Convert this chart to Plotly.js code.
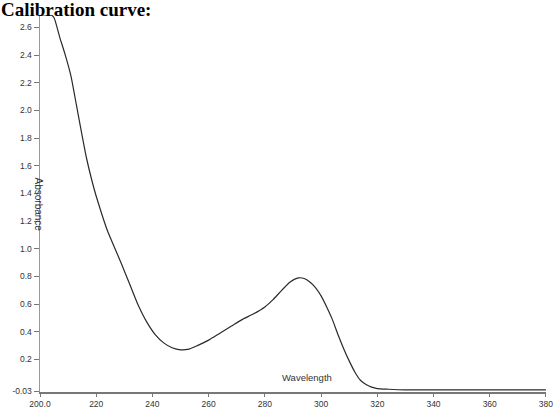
<!DOCTYPE html>
<html>
<head>
<meta charset="utf-8">
<script src="https://cdn.plot.ly/plotly-3.0.1.min.js"></script>
<style>html,body{margin:0;padding:0;background:#fff;}#chart{width:554px;height:409px;}</style>
</head>
<body>
<div id="chart"></div>
<script>
const wavelength = [200,202,204,205,207,209,211,212.5,214.5,216.5,218.5,220,222,224,226.5,229,232,235,238,241,244,247,250,253,256,260,264,268,272,276,280,283,286,289,292,294,296,298,300,302,304,306,308,310,312,314,316,318,320,324,330,340,360,380];
const absorbance = [2.69,2.69,2.69,2.67,2.53,2.40,2.25,2.09,1.87,1.66,1.49,1.38,1.25,1.13,1.01,0.89,0.74,0.59,0.47,0.38,0.32,0.285,0.27,0.275,0.30,0.34,0.39,0.44,0.49,0.53,0.58,0.635,0.70,0.76,0.79,0.785,0.76,0.72,0.66,0.58,0.49,0.38,0.28,0.19,0.11,0.05,0.02,0.00,-0.01,-0.015,-0.02,-0.02,-0.02,-0.02];
const xTickVals = [200,220,240,260,280,300,320,340,360,380];
const xTickText = ["200.0","220","240","260","280","300","320","340","360","380"];
const yTickVals = [-0.03,0.2,0.4,0.6,0.8,1.0,1.2,1.4,1.6,1.8,2.0,2.2,2.4,2.6];
const yTickText = ["-0.03","0.2","0.4","0.6","0.8","1.0","1.2","1.4","1.6","1.8","2.0","2.2","2.4","2.6"];
const chartTitle = "Calibration curve:";
const xTitle = "Wavelength";
const yTitle = "Absorbance";

const trace = {
  x: wavelength, y: absorbance, type: 'scatter', mode: 'lines',
  line: {color: '#2a2a2a', width: 1.2, shape: 'spline', smoothing: 0.6},
  hoverinfo: 'skip', cliponaxis: false
};
const tickFont = {family: 'Liberation Sans, Arial, sans-serif', size: 8.5, color: '#333'};
const layout = {
  width: 554, height: 409,
  margin: {l: 40, r: 8, t: 15, b: 17, pad: 0},
  paper_bgcolor: '#fff', plot_bgcolor: '#fff',
  showlegend: false,
  xaxis: {
    range: [200, 380.02], tickvals: xTickVals, ticktext: xTickText,
    showgrid: false, zeroline: false, showline: true, linecolor: '#777', linewidth: 1.5,
    ticks: 'outside', ticklen: 3, tickcolor: '#777', tickwidth: 1,
    tickfont: tickFont, fixedrange: true, ticklabeloverflow: 'allow'
  },
  yaxis: {
    range: [-0.035, 2.69], tickvals: yTickVals, ticktext: yTickText,
    showgrid: false, zeroline: false, showline: true, linecolor: '#999', linewidth: 1.5,
    ticks: 'outside', ticklen: 5, tickcolor: '#777', tickwidth: 1,
    tickfont: tickFont, fixedrange: true
  },
  annotations: [
    {text: chartTitle, xref: 'paper', yref: 'paper', x: -0.079, y: 1.0438, xanchor: 'left', yanchor: 'top',
     borderpad: 0, showarrow: false,
     font: {family: 'Liberation Serif, Times New Roman, serif', size: 19, color: '#000', weight: 'bold'}},
    {text: xTitle, xref: 'x', yref: 'y', x: 295, y: 0.07, xanchor: 'center', yanchor: 'middle',
     showarrow: false, font: {family: 'Liberation Sans, Arial, sans-serif', size: 9.5, color: '#333'}},
    {text: yTitle, xref: 'paper', yref: 'y', x: -0.004, y: 1.32, xanchor: 'center', yanchor: 'middle', textangle: 90,
     showarrow: false, font: {family: 'Liberation Sans, Arial, sans-serif', size: 10, color: '#333'}}
  ]
};
Plotly.newPlot('chart', [trace], layout, {staticPlot: true, displayModeBar: false});
</script>
</body>
</html>
